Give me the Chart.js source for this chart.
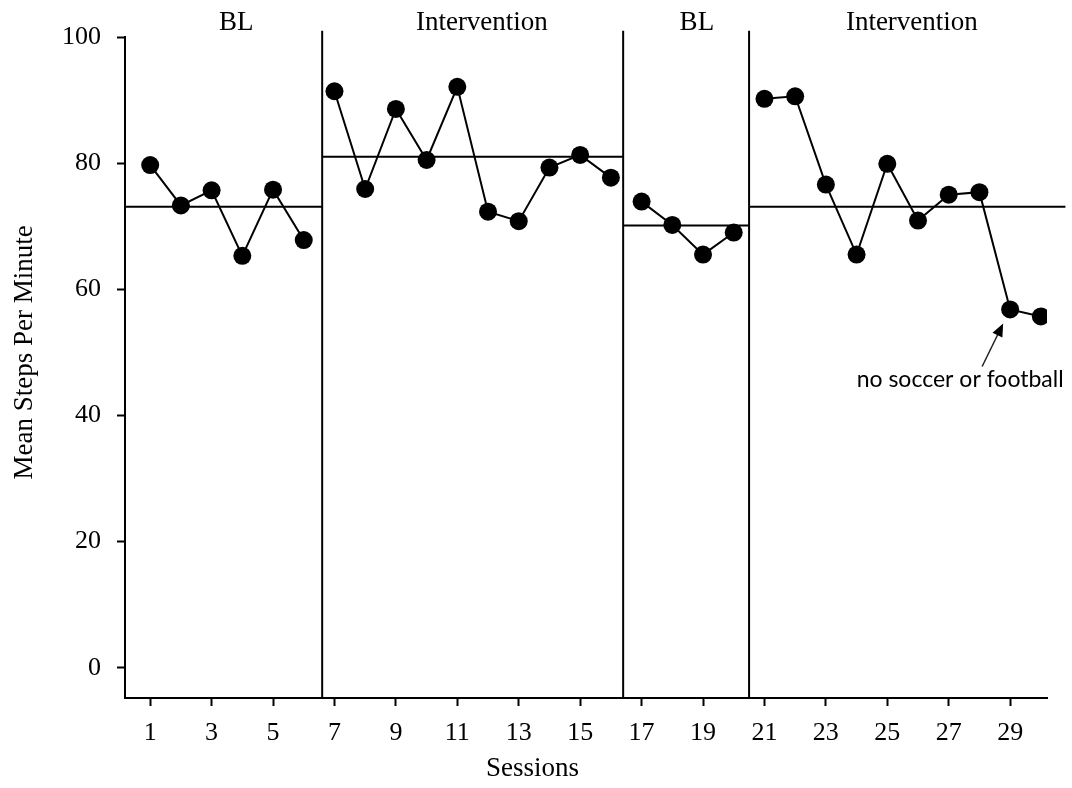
<!DOCTYPE html>
<html>
<head>
<meta charset="utf-8">
<script src="https://cdn.jsdelivr.net/npm/chart.js@4/dist/chart.umd.min.js"></script>
<style>
html,body{margin:0;padding:0;background:#fff;}
#wrap{width:1072px;height:788px;position:relative;}
canvas{display:block;}
</style>
</head>
<body>
<div id="wrap"><canvas id="c" width="1072" height="788"></canvas></div>
<script>
// ---- data ----
const sessions = [1,2,3,4,5,6,7,8,9,10,11,12,13,14,15,16,17,18,19,20,21,22,23,24,25,26,27,28,29,30];
const stepsPerMinute = [79.7,73.3,75.7,65.3,75.8,67.8,
                        91.4,75.9,88.6,80.5,92.1,72.3,70.8,79.3,81.3,77.7,
                        73.9,70.2,65.5,69.0,
                        90.2,90.6,76.6,65.5,79.9,70.9,75.0,75.4,56.8,55.7];
const phaseNames = ['BL','Intervention','BL','Intervention'];
const phaseFirstSession = [1,7,17,21];
const phaseLastSession = [6,16,20,30];
const phaseMeans = [73.1,81.0,70.1,73.1];
const phaseChangeLines = [6.6,16.4,20.5];
const xTickValues = [1,3,5,7,9,11,13,15,17,19,21,23,25,27,29];
const yTickValues = [0,20,40,60,80,100];
const annotationText = 'no soccer or football';
const annotatedSession = 29;

// ---- config ----
const X_MIN = 0.18, X_MAX = 30.2, Y_MIN = -4.8, Y_MAX = 100;
const LAST_MEAN_END = 30.8;
const PHASE_LINE_TOP = 101;
const SERIF = '"Liberation Serif", "Times New Roman", serif';

const datasets = [];
// data series per phase
phaseFirstSession.forEach((first, i) => {
  const pts = [];
  sessions.forEach((s, k) => {
    if (s >= first && s <= phaseLastSession[i]) pts.push({x: s, y: stepsPerMinute[k]});
  });
  datasets.push({
    data: pts, borderColor: '#000', backgroundColor: '#000', borderWidth: 2,
    pointRadius: 9, pointHoverRadius: 9, pointBackgroundColor: '#000', pointBorderWidth: 0,
    tension: 0, order: 1
  });
});
// phase mean lines
phaseMeans.forEach((m, i) => {
  const start = i === 0 ? X_MIN : phaseChangeLines[i - 1];
  const end = i === phaseMeans.length - 1 ? LAST_MEAN_END : phaseChangeLines[i];
  datasets.push({
    data: [{x: start, y: m}, {x: end, y: m}], borderColor: '#000', borderWidth: 2,
    pointRadius: 0, clip: false, order: 2
  });
});
// phase change lines
phaseChangeLines.forEach(v => {
  datasets.push({
    data: [{x: v, y: Y_MIN}, {x: v, y: PHASE_LINE_TOP}], borderColor: '#000', borderWidth: 2,
    pointRadius: 0, clip: false, order: 2
  });
});

const textPlugin = {
  id: 'texts',
  afterDraw(chart) {
    const ctx = chart.ctx, xs = chart.scales.x, ys = chart.scales.y;
    ctx.save();
    ctx.fillStyle = '#000';
    // phase labels
    ctx.font = '27px ' + SERIF;
    ctx.textAlign = 'center';
    ctx.textBaseline = 'alphabetic';
    phaseNames.forEach((n, i) => {
      const mid = (phaseFirstSession[i] + phaseLastSession[i]) / 2 + 0.3;
      ctx.fillText(n, xs.getPixelForValue(mid), 30);
    });
    // x title
    ctx.fillText('Sessions', xs.getPixelForValue(13.45), 776);
    // y title
    ctx.save();
    ctx.translate(32, ys.getPixelForValue(50));
    ctx.rotate(-Math.PI / 2);
    ctx.fillText('Mean Steps Per Minute', 0, 0);
    ctx.restore();
    // annotation
    const idx = sessions.indexOf(annotatedSession);
    const px = xs.getPixelForValue(annotatedSession), py = ys.getPixelForValue(stepsPerMinute[idx]);
    const tipX = px - 7, tipY = py + 14;
    const tailX = tipX - 21, tailY = tipY + 43;
    const ang = Math.atan2(tipY - tailY, tipX - tailX);
    ctx.strokeStyle = '#222';
    ctx.lineWidth = 1.5;
    ctx.beginPath();
    ctx.moveTo(tailX, tailY);
    ctx.lineTo(tipX - 10 * Math.cos(ang), tipY - 10 * Math.sin(ang));
    ctx.stroke();
    ctx.fillStyle = '#000';
    ctx.beginPath();
    ctx.moveTo(tipX, tipY);
    ctx.lineTo(tipX - 13 * Math.cos(ang) + 5.5 * Math.sin(ang), tipY - 13 * Math.sin(ang) - 5.5 * Math.cos(ang));
    ctx.lineTo(tipX - 13 * Math.cos(ang) - 5.5 * Math.sin(ang), tipY - 13 * Math.sin(ang) + 5.5 * Math.cos(ang));
    ctx.closePath();
    ctx.fill();
    ctx.font = '23px Lato, "Open Sans", sans-serif';
    ctx.textAlign = 'center';
    ctx.fillText(annotationText, tailX - 22, tailY + 21);
    ctx.restore();
  }
};

new Chart(document.getElementById('c'), {
  type: 'line',
  data: { datasets },
  options: {
    responsive: false,
    animation: false,
    devicePixelRatio: 1,
    layout: { padding: { top: 37, right: 25, left: 0, bottom: 0 } },
    plugins: { legend: { display: false }, tooltip: { enabled: false } },
    events: [],
    scales: {
      x: {
        type: 'linear', min: X_MIN, max: X_MAX,
        afterBuildTicks: s => { s.ticks = xTickValues.map(v => ({ value: v })); },
        afterFit: s => { s.height = 90; },
        ticks: { color: '#000', font: { family: SERIF, size: 26 }, padding: 12, maxRotation: 0, autoSkip: false },
        grid: { display: true, drawOnChartArea: false, drawTicks: true, tickLength: 8, tickWidth: 2, tickColor: '#000' },
        border: { display: true, color: '#000', width: 2 }
      },
      y: {
        type: 'linear', min: Y_MIN, max: Y_MAX,
        afterBuildTicks: s => { s.ticks = yTickValues.map(v => ({ value: v })); },
        afterFit: s => { s.width = 125; },
        ticks: { color: '#000', font: { family: SERIF, size: 26 }, padding: 16 },
        grid: { display: true, drawOnChartArea: false, drawTicks: true, tickLength: 8, tickWidth: 2, tickColor: '#000' },
        border: { display: true, color: '#000', width: 2 }
      }
    }
  },
  plugins: [textPlugin]
});
</script>
</body>
</html>
